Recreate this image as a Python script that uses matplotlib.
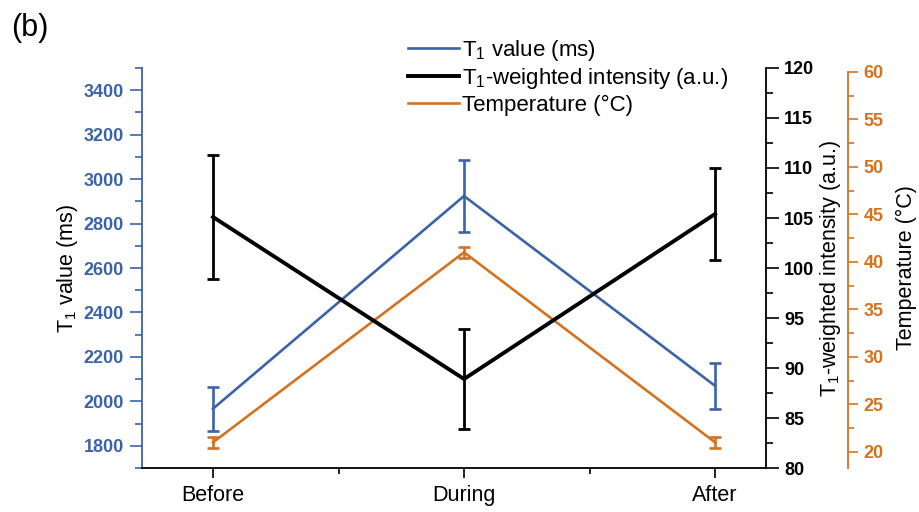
import matplotlib
matplotlib.use("Agg")
import matplotlib.pyplot as plt
from matplotlib.lines import Line2D
from matplotlib.ticker import MultipleLocator

# Measurements at the three stages
conditions = ["Before", "During", "After"]
t1_ms = [1967, 2924, 2070]
t1_err = [99, 160, 104]
intensity = [105.1, 88.9, 105.4]
intensity_err = [6.2, 5.0, 4.6]
temperature = [21.0, 41.0, 21.0]
temperature_err = [0.6, 0.6, 0.55]

BLUE = "#3b63a8"
ORANGE = "#d4721e"
BLACK = "#000000"

LABEL_FS = 15.5
TICK_FS = 13
THIN = 1.9
THICK = 2.8

plt.rcParams["font.family"] = ["Liberation Sans", "DejaVu Sans"]
plt.rcParams["mathtext.fontset"] = "custom"
plt.rcParams["mathtext.rm"] = "Liberation Sans"
plt.rcParams["mathtext.it"] = "Liberation Sans:italic"

fig = plt.figure(figsize=(9.19, 5.12), dpi=100)
ax = fig.add_axes([0.1545, 0.0859, 0.679, 0.7813])
ax_i = ax.twinx()
ax_t = ax.twinx()
ax.set_zorder(1)
ax_t.set_zorder(2)
ax_i.set_zorder(3)

x = list(range(len(conditions)))

ax.errorbar(x, t1_ms, yerr=t1_err, color=BLUE, lw=THIN, elinewidth=THIN,
            capsize=4.3, capthick=THIN)
ax_t.errorbar(x, temperature, yerr=temperature_err, color=ORANGE, lw=THIN,
              elinewidth=THIN, capsize=4.3, capthick=THIN)
ax_i.errorbar(x, intensity, yerr=intensity_err, color=BLACK, lw=THICK,
              elinewidth=2.0, capsize=4.3, capthick=2.0)

# x axis
ax.set_xlim(-0.283, 2.203)
ax.set_xticks(x)
ax.set_xticklabels(conditions, fontsize=LABEL_FS)
ax.xaxis.set_minor_locator(MultipleLocator(0.5))
ax.tick_params(axis="x", which="major", direction="out", length=7, width=1.2, pad=5)
ax.tick_params(axis="x", which="minor", direction="out", length=4, width=1.2)

# left axis: T1 value
ax.set_ylim(1700, 3500)
ax.set_yticks(range(1800, 3401, 200))
ax.yaxis.set_minor_locator(MultipleLocator(100))
ax.tick_params(axis="y", which="major", direction="out", length=9, width=1.2,
               colors=BLUE, pad=4)
ax.tick_params(axis="y", which="minor", direction="out", length=5, width=1.2,
               colors=BLUE)
for lab in ax.get_yticklabels():
    lab.set_fontweight("bold")
    lab.set_fontsize(TICK_FS)
ax.set_ylabel("T$_1$ value (ms)", fontsize=LABEL_FS, color=BLACK, labelpad=2.5)
ax.spines["left"].set_color(BLUE)
ax.spines["left"].set_linewidth(1.3)
ax.spines["bottom"].set_linewidth(1.3)
ax.spines["top"].set_visible(False)
ax.spines["right"].set_visible(False)

# right axis: T1-weighted intensity
ax_i.set_ylim(80, 120)
ax_i.set_yticks(range(80, 121, 5))
ax_i.yaxis.set_minor_locator(MultipleLocator(2.5))
ax_i.tick_params(axis="y", which="major", direction="out", length=9, width=1.2,
                 colors=BLACK, pad=4)
ax_i.tick_params(axis="y", which="minor", direction="out", length=5, width=1.2)
for lab in ax_i.get_yticklabels():
    lab.set_fontweight("bold")
    lab.set_fontsize(TICK_FS)
ax_i.set_ylabel("T$_1$-weighted intensity (a.u.)", fontsize=LABEL_FS, labelpad=3)
for s in ["top", "left", "bottom"]:
    ax_i.spines[s].set_visible(False)
ax_i.spines["right"].set_linewidth(1.3)

# offset axis: temperature
ax_t.set_ylim(18.3, 60.4)
ax_t.set_yticks(range(20, 61, 5))
ax_t.yaxis.set_minor_locator(MultipleLocator(2.5))
ax_t.spines["right"].set_position(("axes", 1.1314))
ax_t.spines["right"].set_color(ORANGE)
ax_t.spines["right"].set_linewidth(1.3)
ax_t.spines["right"].set_bounds(18.3, 60)
for s in ["top", "left", "bottom"]:
    ax_t.spines[s].set_visible(False)
ax_t.tick_params(axis="y", which="major", direction="out", length=7, width=1.2,
                 colors=ORANGE, pad=4)
ax_t.tick_params(axis="y", which="minor", direction="out", length=4, width=1.2,
                 colors=ORANGE)
for lab in ax_t.get_yticklabels():
    lab.set_fontweight("bold")
    lab.set_fontsize(TICK_FS)
ax_t.set_ylabel("Temperature (°C)", fontsize=LABEL_FS, color=BLACK, labelpad=9)

handles = [
    Line2D([], [], color=BLUE, lw=THIN),
    Line2D([], [], color=BLACK, lw=THICK),
    Line2D([], [], color=ORANGE, lw=THIN),
]
labels = ["T$_1$ value (ms)", "T$_1$-weighted intensity (a.u.)", "Temperature (°C)"]
ax_i.legend(handles, labels, loc="upper left", bbox_to_anchor=(0.444, 0.926),
            bbox_transform=fig.transFigure, frameon=False, fontsize=16,
            handlelength=2.3, handletextpad=0.15, labelspacing=0.15,
            borderaxespad=0, borderpad=0)

fig.text(0.012, 0.975, "(b)", fontsize=22, va="top", ha="left")

fig.savefig("out.png", dpi=100)
